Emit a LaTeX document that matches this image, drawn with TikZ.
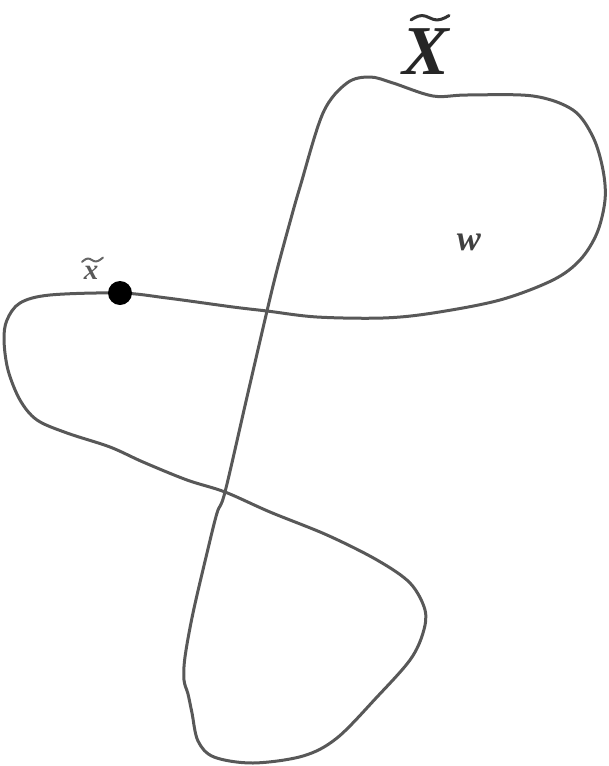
\documentclass[tikz,border=0pt]{standalone}
\usepackage{fontspec}
\setmainfont{Liberation Serif}
\definecolor{curvegray}{RGB}{88,88,88}
\tikzset{
  loopline/.style={draw=curvegray, line width=3pt, line join=round},
  lbl/.style={inner sep=0pt, anchor=base},
  tildemark/.style={line cap=round, line join=round},
}
\begin{document}
\begin{tikzpicture}[x=1pt,y=-1pt]
\useasboundingbox (0,0) rectangle (608,766);
\draw[loopline] plot[smooth cycle, tension=0.55] coordinates {
(120,293) (167,298) (233,307) (267,311) (317,317) (383,318) (433,313) (500,300)
(553,280) (580,260) (597,233) (605,200) (603,170) (593,137) (573,110) (533,96)
(467,95) (433,96) (393,83) (370,77) (347,83) (323,113) (300,187) (290,222)
(277,270) (267,311) (247,397) (225,492) (217,513) (207,553) (193,613) (185,657)
(184,680) (188,694) (192,713) (198,741) (214,757) (253,763) (303,756) (337,738)
(377,697) (410,660) (423,633) (425,610) (410,583) (377,560) (327,535) (270,512)
(225,492) (187,480) (143,462) (110,447) (67,433) (37,420) (20,400) (8,370)
(4,340) (7,320) (20,303) (50,295)};
\node[circle, fill=black, minimum size=24pt, inner sep=0pt] (xpt) at (120,293) {};
\node[lbl, font=\fontsize{70}{70}\selectfont\bfseries\itshape, text=black!85] (Xlab) at (426,74) {X};
\draw[tildemark, draw=black!80, line width=3pt] plot[smooth, tension=0.7] coordinates {(411,20) (422,15.5) (437,20) (449,15.5)};
\node[lbl, font=\fontsize{29}{29}\selectfont\bfseries\itshape, text=black!65] (xlab) at (91,279) {x};
\draw[tildemark, draw=black!60, line width=2pt] plot[smooth, tension=0.7] coordinates {(82,262) (88,258.5) (96,261.5) (103,257.5)};
\node[lbl, font=\fontsize{36}{36}\selectfont\bfseries\itshape, text=black!75] (wlab) at (469,250) {w};
\end{tikzpicture}
\end{document}
